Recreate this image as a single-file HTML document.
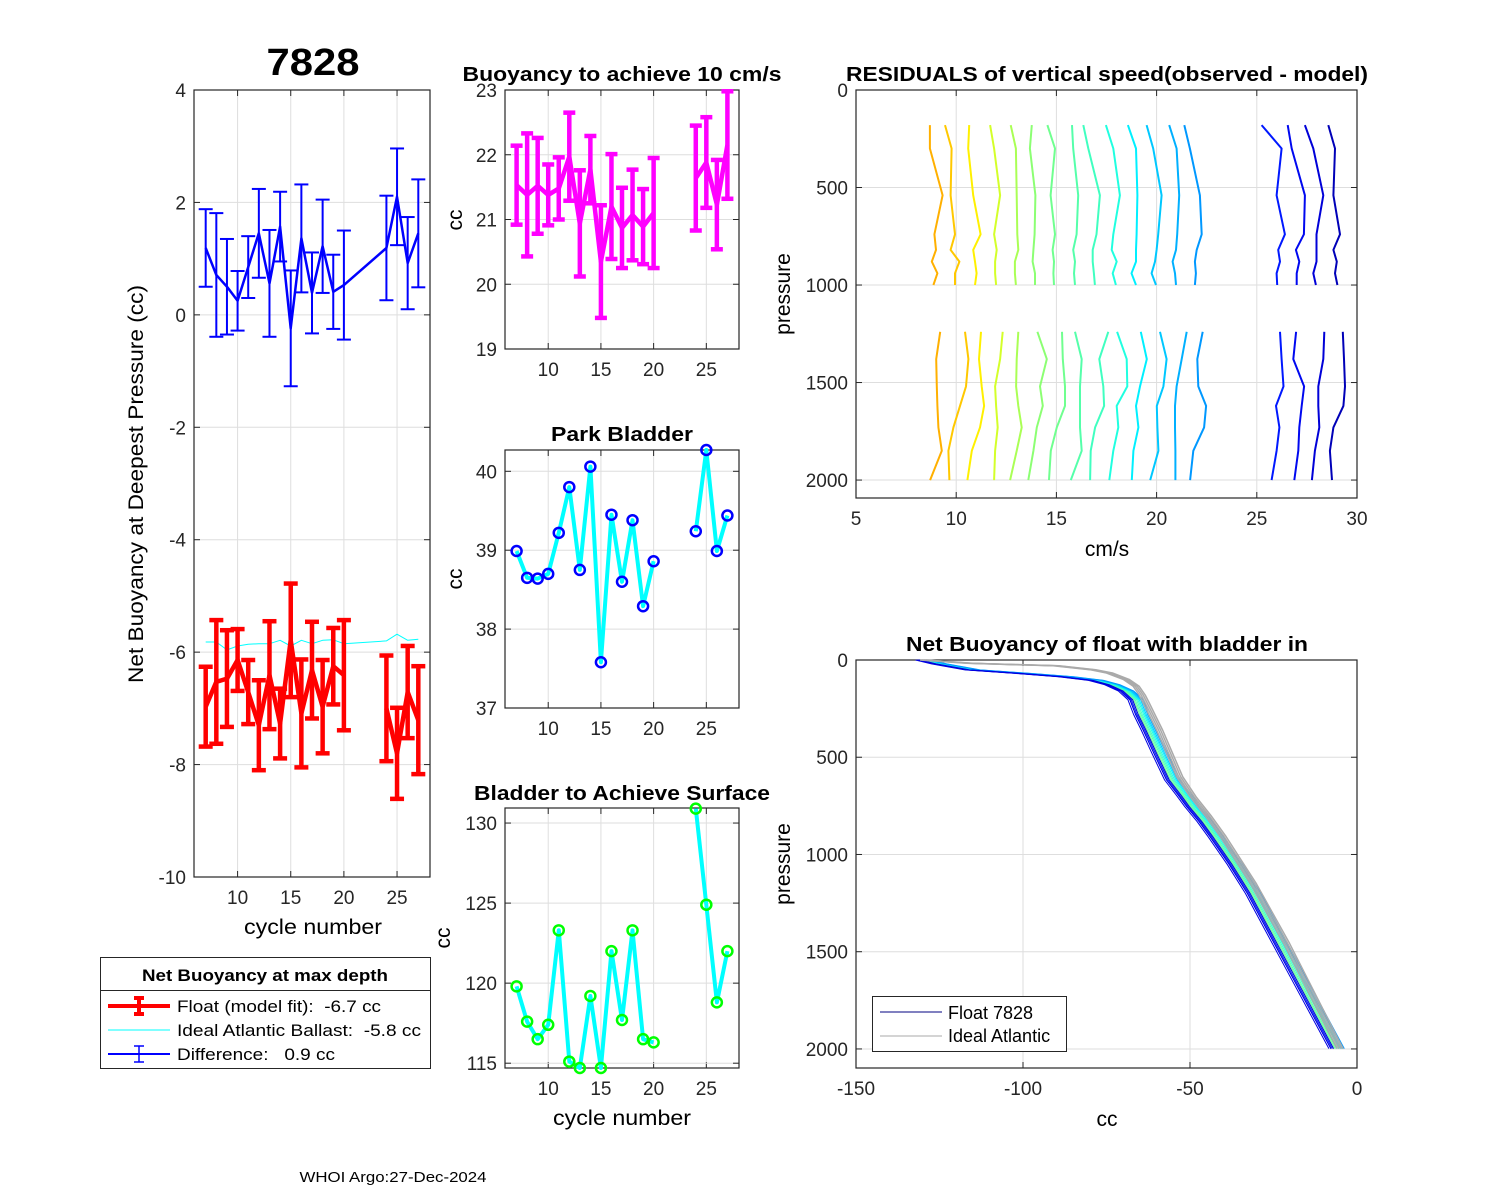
<!DOCTYPE html>
<html><head><meta charset="utf-8"><style>
body{margin:0;background:#fff;}
svg{display:block;font-family:"Liberation Sans",Arial,sans-serif;}
text{white-space:pre;}
</style></head><body>
<svg id="fig" width="1500" height="1200" viewBox="0 0 1500 1200" xmlns="http://www.w3.org/2000/svg">
<rect x="0" y="0" width="1500" height="1200" fill="#fff"/>
</svg>
<script>
// ---------- DATA ----------
const cycles = [7,8,9,10,11,12,13,14,15,16,17,18,19,20,24,25,26,27];
const diffVal = [1.19,0.71,0.50,0.25,0.85,1.45,0.56,1.57,-0.24,1.36,0.39,1.22,0.41,0.53,1.19,2.10,0.92,1.45];
const diffErr = [0.69,1.10,0.85,0.53,0.55,0.79,0.95,0.62,1.03,0.96,0.72,0.83,0.66,0.97,0.93,0.86,0.82,0.96];
const floatVal = [-6.97,-6.53,-6.47,-6.14,-6.71,-7.30,-6.41,-7.27,-5.79,-7.09,-6.32,-6.97,-6.25,-6.41,-7.00,-7.80,-6.71,-7.21];
const floatErr = [0.71,1.10,0.86,0.55,0.57,0.80,0.96,0.62,1.01,0.96,0.86,0.83,0.68,0.98,0.94,0.81,0.82,0.96];
const idealVal = [-5.82,-5.82,-5.96,-5.89,-5.86,-5.85,-5.85,-5.79,-5.89,-5.79,-5.85,-5.79,-5.78,-5.85,-5.80,-5.68,-5.79,-5.77];
const speedVal = [21.53,21.38,21.52,21.38,21.48,21.97,20.94,21.77,20.35,21.20,20.87,21.07,20.89,21.10,21.64,21.88,21.23,22.15];
const speedErr = [0.61,0.95,0.74,0.47,0.48,0.68,0.82,0.52,0.87,0.81,0.62,0.70,0.58,0.85,0.81,0.70,0.69,0.83];
const parkVal = [38.99,38.65,38.64,38.70,39.22,39.80,38.75,40.06,37.58,39.45,38.60,39.38,38.29,38.86,39.24,40.27,38.99,39.44];
const surfVal = [119.8,117.6,116.5,117.4,123.3,115.1,114.7,119.2,114.7,122.0,117.7,123.3,116.5,116.3,130.9,124.9,118.8,122.0];
// residual speed profiles (cm/s) at depths
const resDepU = [180,300,540,740,820,880,940,1000];
const resDepL = [1240,1380,1520,1620,1730,1850,2000];
const resU = [
[8.69,8.69,9.32,8.91,8.99,8.78,9.06,8.86],
[9.44,9.77,9.72,9.94,9.72,10.16,9.94,9.94],
[10.65,10.60,10.85,11.22,10.85,10.94,11.02,10.94],
[11.69,11.89,12.19,11.89,12.02,11.94,11.94,11.99],
[12.72,12.98,13.02,13.05,13.10,12.93,12.93,12.98],
[13.77,13.68,13.95,13.91,13.85,13.81,13.93,13.93],
[14.55,14.93,14.71,14.93,14.81,14.88,14.85,14.88],
[15.78,15.84,16.09,16.01,15.84,15.93,15.88,15.93],
[16.34,16.59,17.17,17.00,16.81,16.81,16.87,16.92],
[17.47,17.84,18.17,17.84,17.76,18.01,17.81,17.97],
[18.57,18.97,19.04,19.00,18.97,18.97,18.75,18.97],
[19.50,19.83,20.25,20.08,20.00,19.92,19.75,19.97],
[20.63,21.00,21.13,21.03,20.97,20.80,20.92,20.97],
[21.38,21.66,22.16,22.25,22.00,21.91,21.96,21.91],
[25.24,26.24,25.99,26.40,26.07,26.16,25.99,26.02],
[26.54,26.74,27.40,27.35,26.95,27.12,26.99,26.99],
[27.40,27.82,28.32,27.98,27.98,27.98,27.82,27.95],
[28.57,28.90,28.82,29.15,28.82,28.99,28.90,29.02]];
const resL = [
[9.20,9.00,9.03,9.06,9.11,9.28,8.70],
[10.44,10.61,10.49,10.19,9.86,9.61,9.66],
[11.24,11.14,11.27,11.39,11.19,10.78,10.56],
[12.32,12.19,11.94,11.99,12.07,11.94,11.89],
[13.10,13.02,12.99,13.10,13.27,13.02,12.69],
[14.05,14.52,14.18,14.32,14.02,13.85,13.60],
[15.28,15.32,15.43,15.43,15.02,14.72,14.63],
[15.93,16.26,16.18,16.18,16.18,16.26,15.72],
[17.59,17.14,17.34,17.38,16.93,16.71,16.68],
[18.03,18.51,18.54,18.01,18.09,17.84,17.64],
[19.21,19.51,19.17,18.97,19.09,18.84,18.76],
[20.17,20.50,20.34,20.01,20.04,20.09,19.68],
[21.50,21.25,21.00,20.92,20.92,20.94,20.94],
[22.30,22.03,22.08,22.47,22.37,21.83,21.67],
[26.16,26.24,26.33,25.96,26.13,25.99,25.74],
[26.96,26.82,27.36,27.24,27.12,27.07,26.87],
[28.37,28.32,28.07,28.07,28.12,27.90,27.75],
[29.29,29.35,29.40,29.32,28.82,28.65,28.75]];
const resColors = ['#ffb000','#ffc800','#fff000','#d4ff2a','#aaff55','#8cff73','#70ff8f','#55ffaa','#40ffc0','#20ffe0','#00f0ff','#00c8ff','#00b0ff','#0098ff','#0018ff','#0008f0','#0000d8','#0000b8'];
// net buoyancy profiles
const floatDep = [0,20,51,70,86,105,127,160,204,280,360,480,617,700,754,830,908,1050,1200,1600,1998];
const floatCC = [-130.8,-126,-116,-100,-88,-79,-74.2,-70,-67.2,-65.5,-63.2,-60,-56.2,-52.5,-50.2,-46.5,-43.2,-37.5,-32,-19.5,-7];
const idealDep = [0,17,30,50,67,100,135,180,221,290,360,480,600,703,800,908,1148,1457,1998];
const idealCC = [-130.8,-116.9,-91,-80,-75,-70,-67,-65.2,-64,-62,-60,-57,-54,-50,-45.5,-41,-32,-22,-6];
const floatShift = [0,0.4,0.8,1.2,1.6,2.0,2.4,2.8,3.2,-0.4,-0.8];
const idealShift = [0,0.6,1.2,1.8];

// ---------- helpers ----------
const svg = document.getElementById('fig');
const NS = 'http://www.w3.org/2000/svg';
function el(tag, attrs, parent){const e=document.createElementNS(NS,tag);for(const k in attrs)e.setAttribute(k,attrs[k]);(parent||svg).appendChild(e);return e;}
function txt(s,x,y,size,opts){opts=opts||{};const t=el('text',{x:x,y:y,'font-size':size,'text-anchor':opts.anchor||'middle',fill:'#000'});if(opts.bold)t.setAttribute('font-weight','bold');if(opts.len){t.setAttribute('textLength',opts.len);t.setAttribute('lengthAdjust','spacingAndGlyphs');}if(opts.rot)t.setAttribute('transform','rotate(-90 '+x+' '+y+')');t.textContent=s;return t;}
function lin(d0,d1,p0,p1){return v=>p0+(v-d0)/(d1-d0)*(p1-p0);}
function axes(name,b,xlim,ylim,xt,yt,rev){
  const X=lin(xlim[0],xlim[1],b.x0,b.x1);
  const Y=rev?lin(ylim[0],ylim[1],b.y0,b.y1):lin(ylim[0],ylim[1],b.y1,b.y0);
  const g=el('g',{});
  
  
  xt.forEach(v=>{el('line',{x1:X(v),x2:X(v),y1:b.y0,y2:b.y1,stroke:'#dedede','stroke-width':1},g);
    el('line',{x1:X(v),x2:X(v),y1:b.y1,y2:b.y1-6,stroke:'#262626','stroke-width':1},g);
    el('line',{x1:X(v),x2:X(v),y1:b.y0,y2:b.y0+6,stroke:'#262626','stroke-width':1},g);
    txt(String(v),X(v),b.y1+27,19).setAttribute('fill','#262626');});
  yt.forEach(v=>{el('line',{x1:b.x0,x2:b.x1,y1:Y(v),y2:Y(v),stroke:'#dedede','stroke-width':1},g);
    el('line',{x1:b.x0,x2:b.x0+6,y1:Y(v),y2:Y(v),stroke:'#262626','stroke-width':1},g);
    el('line',{x1:b.x1,x2:b.x1-6,y1:Y(v),y2:Y(v),stroke:'#262626','stroke-width':1},g);
    txt(String(v),b.x0-8,Y(v)+7,19,{anchor:'end'}).setAttribute('fill','#262626');});
  el('rect',{x:b.x0,y:b.y0,width:b.x1-b.x0,height:b.y1-b.y0,fill:'none',stroke:'#262626','stroke-width':1.2},g);
  return {X,Y,g};
}
function poly(pts,attrs,parent){return el('polyline',Object.assign({points:pts.map(p=>p[0].toFixed(1)+','+p[1].toFixed(1)).join(' '),fill:'none','stroke-linejoin':'round'},attrs),parent);}
function errbars(A,vals,errs,color,w,cap,name){
  const g=el('g',{});
  
  
  vals.forEach((v,i)=>{const x=A.X(cycles[i]);
    el('line',{x1:x,x2:x,y1:A.Y(v-errs[i]),y2:A.Y(v+errs[i]),stroke:color,'stroke-width':w},g);
    el('line',{x1:x-cap,x2:x+cap,y1:A.Y(v-errs[i]),y2:A.Y(v-errs[i]),stroke:color,'stroke-width':w},g);
    el('line',{x1:x-cap,x2:x+cap,y1:A.Y(v+errs[i]),y2:A.Y(v+errs[i]),stroke:color,'stroke-width':w},g);});
  return g;
}
function seriesLine(A,vals,color,w,name,breakGap){
  let segs=[[]];
  vals.forEach((v,i)=>{if(breakGap&&i>0&&cycles[i]-cycles[i-1]>1)segs.push([]);segs[segs.length-1].push([A.X(cycles[i]),A.Y(v)]);});
  segs.forEach(s=>{const p=poly(s,{stroke:color,'stroke-width':w});});
}

// ---------- Panel 1: net buoyancy ----------
const A1=axes('net-buoyancy-axes',{x0:194,x1:430,y0:90,y1:877},[5.9,28.1],[-10,4],[10,15,20,25],[4,2,0,-2,-4,-6,-8,-10]);
errbars(A1,diffVal,diffErr,'#0000ff',2,7,'difference-errorbars');
seriesLine(A1,diffVal,'#0000ff',2.5,'difference-line',false);
seriesLine(A1,idealVal,'#00ffff',1,'ideal-ballast-line',false);
errbars(A1,floatVal,floatErr,'#ff0000',4.5,7,'float-errorbars');
seriesLine(A1,floatVal,'#ff0000',4.5,'float-line',true);
txt('7828',313,75,38,{bold:true,len:93});
txt('cycle number',313,934,21,{len:138});
txt('Net Buoyancy at Deepest Pressure (cc)',143,484,21,{rot:true,len:398});

// legend
const lg=el('g',{});


el('rect',{x:100.5,y:957.5,width:330,height:111,fill:'#fff',stroke:'#262626','stroke-width':1},lg);
el('line',{x1:100.5,x2:430.5,y1:990.5,y2:990.5,stroke:'#262626','stroke-width':1},lg);
lg.appendChild(txt('Net Buoyancy at max depth',265,981,17,{bold:true,len:246}));
el('line',{x1:108,x2:170,y1:1006,y2:1006,stroke:'#ff0000','stroke-width':4},lg);
el('line',{x1:139,x2:139,y1:998,y2:1014,stroke:'#ff0000','stroke-width':4},lg);
el('line',{x1:134,x2:144,y1:998,y2:998,stroke:'#ff0000','stroke-width':4},lg);
el('line',{x1:134,x2:144,y1:1014,y2:1014,stroke:'#ff0000','stroke-width':4},lg);
el('line',{x1:108,x2:170,y1:1030,y2:1030,stroke:'#00ffff','stroke-width':1},lg);
el('line',{x1:108,x2:170,y1:1054,y2:1054,stroke:'#0000ff','stroke-width':2},lg);
el('line',{x1:139,x2:139,y1:1046,y2:1062,stroke:'#0000ff','stroke-width':1.5},lg);
el('line',{x1:134,x2:144,y1:1046,y2:1046,stroke:'#0000ff','stroke-width':1.5},lg);
el('line',{x1:134,x2:144,y1:1062,y2:1062,stroke:'#0000ff','stroke-width':1.5},lg);
[['Float (model fit):  -6.7 cc',1012,204],['Ideal Atlantic Ballast:  -5.8 cc',1036,244],['Difference:   0.9 cc',1060,158]].forEach(a=>{lg.appendChild(txt(a[0],177,a[1],17,{anchor:'start',len:a[2]}));});

// ---------- Panel 2: buoyancy to achieve 10 cm/s ----------
const A2=axes('speed-buoyancy-axes',{x0:505,x1:739,y0:90,y1:349},[5.9,28.1],[19,23],[10,15,20,25],[23,22,21,20,19]);
errbars(A2,speedVal,speedErr,'#ff00ff',4.5,6,'speed-buoyancy-errorbars');
seriesLine(A2,speedVal,'#ff00ff',4.5,'speed-buoyancy-line',true);
txt('Buoyancy to achieve 10 cm/s',622,81,20,{bold:true,len:319});
txt('cc',462,220,21,{rot:true});

// ---------- Panel 3: park bladder ----------
const A3=axes('park-bladder-axes',{x0:505,x1:739,y0:450,y1:708},[5.9,28.1],[37,40.27],[10,15,20,25],[40,39,38,37]);
seriesLine(A3,parkVal,'#00ffff',4,'park-bladder-line',true);
parkVal.forEach((v,i)=>{const c=el('circle',{cx:A3.X(cycles[i]),cy:A3.Y(v),r:5,fill:'none',stroke:'#0000ff','stroke-width':2.5});});
txt('Park Bladder',622,441,20,{bold:true,len:142});
txt('cc',462,579,21,{rot:true});

// ---------- Panel 4: bladder to achieve surface ----------
const A4=axes('surface-bladder-axes',{x0:505,x1:739,y0:808,y1:1068},[5.9,28.1],[114.7,130.94],[10,15,20,25],[130,125,120,115]);
seriesLine(A4,surfVal,'#00ffff',4,'surface-bladder-line',true);
surfVal.forEach((v,i)=>{const c=el('circle',{cx:A4.X(cycles[i]),cy:A4.Y(v),r:5,fill:'none',stroke:'#00ff00','stroke-width':2.5});});
txt('Bladder to Achieve Surface',622,800,20,{bold:true,len:296});
txt('cycle number',622,1125,21,{len:138});
txt('cc',450,938,21,{rot:true});

// ---------- Panel 5: residuals ----------
const A5=axes('residuals-axes',{x0:856,x1:1357,y0:90,y1:498},[5,30],[0,2092],[5,10,15,20,25,30],[0,500,1000,1500,2000],true);
resU.forEach((row,i)=>{const p=poly(row.map((v,j)=>[A5.X(v),A5.Y(resDepU[j])]),{stroke:resColors[i],'stroke-width':2});});
resL.forEach((row,i)=>{const p=poly(row.map((v,j)=>[A5.X(v),A5.Y(resDepL[j])]),{stroke:resColors[i],'stroke-width':2});});
txt('RESIDUALS of vertical speed(observed - model)',1107,81,20,{bold:true,len:522});
txt('cm/s',1107,556,21);
txt('pressure',790,294,21,{rot:true});

// ---------- Panel 6: net buoyancy with bladder in ----------
const A6=axes('bladder-in-axes',{x0:856,x1:1357,y0:660,y1:1068},[-150,0],[0,2098],[-150,-100,-50,0],[0,500,1000,1500,2000],true);
floatShift.forEach((s,i)=>{const p=poly(floatCC.map((v,j)=>[A6.X(v+s),A6.Y(floatDep[j])]),{stroke:resColors[(i+5)%18],'stroke-width':1});});
[0,-0.8,-1.4].forEach(s=>{const p=poly(floatCC.map((v,j)=>[A6.X(v+s),A6.Y(floatDep[j])]),{stroke:'#0000e0','stroke-width':1});});
idealShift.forEach(s=>{const p=poly(idealCC.map((v,j)=>[A6.X(v+s),A6.Y(idealDep[j])]),{stroke:'#aaaaaa','stroke-width':1.5});});
txt('Net Buoyancy of float with bladder in',1107,651,20,{bold:true,len:402});
txt('cc',1107,1126,21);
txt('pressure',790,864,21,{rot:true});
const lg2=el('g',{});


el('rect',{x:872.5,y:996.5,width:194,height:55,fill:'#fff',stroke:'#262626','stroke-width':1},lg2);
el('line',{x1:880,x2:942,y1:1012,y2:1012,stroke:'#000080','stroke-width':1},lg2);
el('line',{x1:880,x2:942,y1:1036,y2:1036,stroke:'#aaaaaa','stroke-width':1},lg2);
lg2.appendChild(txt('Float 7828',948,1019,18,{anchor:'start'}));
lg2.appendChild(txt('Ideal Atlantic',948,1042,18,{anchor:'start'}));

txt('WHOI Argo:27-Dec-2024',393,1182,15,{len:187});
</script>
</body></html>
